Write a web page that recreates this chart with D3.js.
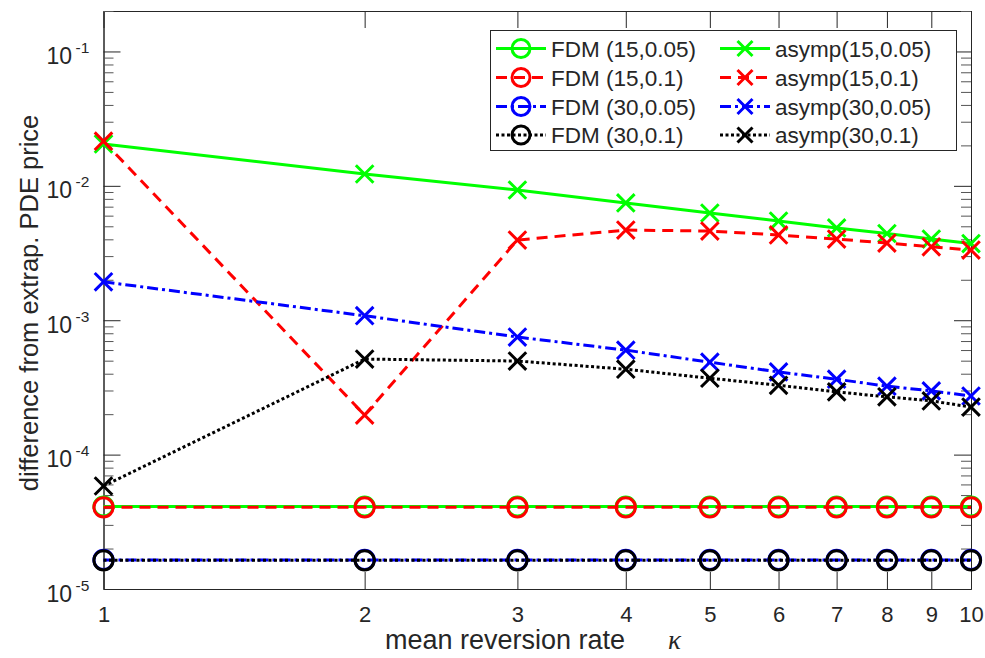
<!DOCTYPE html>
<html>
<head>
<meta charset="utf-8">
<script src="https://cdn.jsdelivr.net/npm/d3@7"></script>
<style>
  body { margin: 0; background: #fff; }
  svg { display: block; }
  text { font-family: "Liberation Sans", Arial, Helvetica, sans-serif; fill: #262626; }
</style>
</head>
<body>
<svg id="chart" width="985" height="658"></svg>
<script>
// mean reversion rate values
const kappa = [1, 2, 3, 4, 5, 6, 7, 8, 9, 10];

// finite-difference errors (grid points, volatility)
const fdm15_005 = [4.11e-5, 4.11e-5, 4.11e-5, 4.11e-5, 4.11e-5, 4.11e-5, 4.11e-5, 4.11e-5, 4.11e-5, 4.11e-5];
const fdm15_01  = [4.05e-5, 4.05e-5, 4.05e-5, 4.05e-5, 4.05e-5, 4.05e-5, 4.05e-5, 4.05e-5, 4.05e-5, 4.05e-5];
const fdm30_005 = [1.645e-5, 1.645e-5, 1.645e-5, 1.645e-5, 1.645e-5, 1.645e-5, 1.645e-5, 1.645e-5, 1.645e-5, 1.645e-5];
const fdm30_01  = [1.635e-5, 1.635e-5, 1.635e-5, 1.635e-5, 1.635e-5, 1.635e-5, 1.635e-5, 1.635e-5, 1.635e-5, 1.635e-5];

// asymptotic approximation errors
const asymp15_005 = [0.0205, 0.01225, 0.00931, 0.00746, 0.00628, 0.00547, 0.00486, 0.00442, 0.00402, 0.00372];
const asymp15_01  = [0.0215, 0.000197, 0.00395, 0.00469, 0.00461, 0.00431, 0.00402, 0.00375, 0.00352, 0.00333];
const asymp30_005 = [0.00193, 0.00108, 0.00075, 0.000599, 0.000487, 0.000412, 0.000364, 0.000323, 0.000298, 0.000273];
const asymp30_01  = [5.84e-5, 0.000514, 0.000497, 0.000432, 0.00037, 0.000328, 0.000293, 0.000269, 0.000251, 0.000226];

// axis ticks
const xTicks = [1, 2, 3, 4, 5, 6, 7, 8, 9, 10];
const yTicks = [1e-5, 1e-4, 1e-3, 1e-2, 1e-1];
const yTickExp = ["-5", "-4", "-3", "-2", "-1"];

const names = ["FDM (15,0.05)", "FDM (15,0.1)", "FDM (30,0.05)", "FDM (30,0.1)",
               "asymp(15,0.05)", "asymp(15,0.1)", "asymp(30,0.05)", "asymp(30,0.1)"];

const colors = { green: "#00ff00", red: "#ff0000", blue: "#0000ff", black: "#000000" };
const dashes = { solid: null, dashed: "11,7", dashdot: "11,4,3,4", dotted: "3,2.5" };

const series = [
  { name: names[0], values: fdm15_005,   color: colors.green, dash: dashes.solid,   marker: "o" },
  { name: names[1], values: fdm15_01,    color: colors.red,   dash: dashes.dashed,  marker: "o" },
  { name: names[2], values: fdm30_005,   color: colors.blue,  dash: dashes.dashdot, marker: "o" },
  { name: names[3], values: fdm30_01,    color: colors.black, dash: dashes.dotted,  marker: "o" },
  { name: names[4], values: asymp15_005, color: colors.green, dash: dashes.solid,   marker: "x" },
  { name: names[5], values: asymp15_01,  color: colors.red,   dash: dashes.dashed,  marker: "x" },
  { name: names[6], values: asymp30_005, color: colors.blue,  dash: dashes.dashdot, marker: "x" },
  { name: names[7], values: asymp30_01,  color: colors.black, dash: dashes.dotted,  marker: "x" }
];

const svg = d3.select("#chart");
const box = { left: 103.5, right: 971, top: 11, bottom: 589 };

const x = d3.scaleLog().domain([1, 10]).range([box.left, box.right]);
const y = d3.scaleLog().domain([1e-5, 0.2]).range([box.bottom, box.top]);

const axisColor = "#262626";
const lineW = 3;
const circleR = 9.6;
const crossR = 8.8;

// minor y ticks: 2..9 within each decade
const yMinor = [];
for (let e = -5; e <= -1; e++) {
  for (let m = 2; m <= 9; m++) {
    const v = m * Math.pow(10, e);
    if (v <= 0.2) yMinor.push(v);
  }
}

function styleAxis(g, stroke) {
  g.selectAll("path.domain").attr("stroke", axisColor).attr("stroke-width", 1);
  g.selectAll(".tick line").attr("stroke", stroke || axisColor).attr("stroke-width", 1);
}

// bottom axis with labels
const gx = svg.append("g").attr("transform", `translate(0,${box.bottom})`)
  .call(d3.axisBottom(x).tickValues(xTicks).tickFormat(d3.format("d"))
    .tickSizeInner(-17).tickSizeOuter(0).tickPadding(17.5));
styleAxis(gx);
gx.selectAll(".tick text").style("font-size", "22px").attr("fill", axisColor)
  .style("font-family", "'Liberation Sans', Arial, sans-serif");

// top axis
const gxt = svg.append("g").attr("transform", `translate(0,${box.top})`)
  .call(d3.axisTop(x).tickValues(xTicks).tickFormat("").tickSizeInner(-17).tickSizeOuter(0));
styleAxis(gxt);

// left axis: major and minor ticks
const gy = svg.append("g").attr("transform", `translate(${box.left},0)`)
  .call(d3.axisLeft(y).tickValues(yTicks).tickFormat("").tickSizeInner(-17).tickSizeOuter(0));
styleAxis(gy);
const gym = svg.append("g").attr("transform", `translate(${box.left},0)`)
  .call(d3.axisLeft(y).tickValues(yMinor).tickFormat("").tickSizeInner(-10).tickSizeOuter(0));
styleAxis(gym, "#555");

// right axis: major and minor ticks
const gyr = svg.append("g").attr("transform", `translate(${box.right},0)`)
  .call(d3.axisRight(y).tickValues(yTicks).tickFormat("").tickSizeInner(-17).tickSizeOuter(0));
styleAxis(gyr);
const gyrm = svg.append("g").attr("transform", `translate(${box.right},0)`)
  .call(d3.axisRight(y).tickValues(yMinor).tickFormat("").tickSizeInner(-10).tickSizeOuter(0));
styleAxis(gyrm, "#555");

// power-of-ten labels
const yl = svg.append("g").selectAll("g.ylab").data(yTicks).join("g").attr("class", "ylab");
yl.append("text")
  .attr("x", 72).attr("y", d => y(d) + 12.5)
  .attr("text-anchor", "end").style("font-size", "23px")
  .text("10");
yl.append("text")
  .attr("x", 75.5).attr("y", d => y(d) + 1.5)
  .style("font-size", "15.5px")
  .text((d, i) => yTickExp[i]);

// series lines and markers
const line = d3.line().x((d, i) => x(kappa[i])).y(d => y(d));

function drawMarker(g, kind, cx, cy, color, r) {
  if (kind === "o") {
    g.append("circle").attr("cx", cx).attr("cy", cy).attr("r", r)
      .attr("fill", "none").attr("stroke", color).attr("stroke-width", lineW);
  } else {
    const s = r;
    g.append("path")
      .attr("d", `M${cx - s},${cy - s}L${cx + s},${cy + s}M${cx - s},${cy + s}L${cx + s},${cy - s}`)
      .attr("stroke", color).attr("stroke-width", lineW).attr("fill", "none");
  }
}

const plotG = svg.append("g");
series.forEach(s => {
  const g = plotG.append("g");
  g.append("path").datum(s.values)
    .attr("d", line)
    .attr("fill", "none")
    .attr("stroke", s.color)
    .attr("stroke-width", lineW)
    .attr("stroke-dasharray", s.dash);
  g.selectAll("g.pt").data(s.values).join("g").attr("class", "pt")
    .each(function (d, i) {
      drawMarker(d3.select(this), s.marker, x(kappa[i]), y(d), s.color, s.marker === "o" ? circleR : crossR);
    });
});

// legend
const leg = svg.append("g");
leg.append("rect")
  .attr("x", 490.5).attr("y", 30.5).attr("width", 466).attr("height", 120)
  .attr("fill", "#fff").attr("stroke", axisColor).attr("stroke-width", 1);

const rowY = [48.5, 77.5, 106.5, 135];
const colX = [496, 720];
series.forEach((s, k) => {
  const col = Math.floor(k / 4), row = k % 4;
  const lx = colX[col], ly = rowY[row];
  const g = leg.append("g");
  g.append("line")
    .attr("x1", lx).attr("x2", lx + 50).attr("y1", ly).attr("y2", ly)
    .attr("stroke", s.color).attr("stroke-width", lineW)
    .attr("stroke-dasharray", s.dash);
  drawMarker(g, s.marker, lx + 25, ly, s.color, s.marker === "o" ? 9 : 7.5);
  g.append("text")
    .attr("x", lx + 55).attr("y", ly + 8)
    .style("font-size", "22.5px")
    .text(s.name);
});

// axis titles
svg.append("text")
  .attr("x", 385).attr("y", 649)
  .style("font-size", "27px")
  .text("mean reversion rate");
svg.append("text")
  .attr("x", 668).attr("y", 649)
  .style("font-size", "27px")
  .style("font-family", "'Liberation Serif', 'DejaVu Serif', serif")
  .style("font-style", "italic")
  .text("κ");

svg.append("text")
  .attr("transform", "translate(38,303) rotate(-90)")
  .attr("text-anchor", "middle")
  .style("font-size", "25.5px")
  .text("difference from extrap. PDE price");
</script>
</body>
</html>
